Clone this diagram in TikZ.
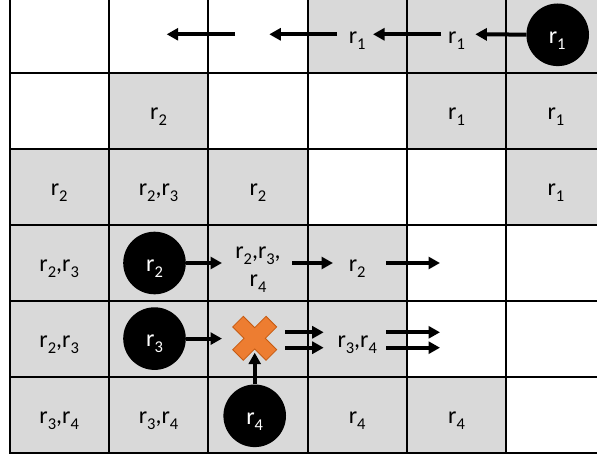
\documentclass[tikz,border=0pt]{standalone}
\usepackage{fontspec}
\setmainfont{Carlito}
\usetikzlibrary{arrows.meta}
\definecolor{cellgray}{HTML}{D9D9D9}
\definecolor{xorange}{HTML}{ED7D31}
\definecolor{xedge}{HTML}{C55A11}
\newcommand\rlab[1]{r\raisebox{-6pt}{\fontsize{16.5}{17}\selectfont #1}}
\begin{document}
\begin{tikzpicture}[x=1pt,y=-1pt,
  cell/.style={draw=black, line width=2pt, minimum width=99.35pt, minimum height=75.95pt, inner sep=0pt, outer sep=0pt},
  txt/.style={anchor=base, inner sep=0pt, font=\fontsize{24}{28}\selectfont},
  robot/.style={circle, fill=black, minimum size=62.6pt, inner sep=0pt},
  rtxt/.style={txt, text=white},
  mv/.style={line width=4pt, -{Triangle[length=11.5pt,width=12pt]}},
]
\useasboundingbox (0,0) rectangle (597,457);
% cells
\foreach \r/\c/\f in {
  0/0/white,0/1/white,0/2/white,0/3/cellgray,0/4/cellgray,0/5/cellgray,
  1/0/white,1/1/cellgray,1/2/white,1/3/white,1/4/cellgray,1/5/cellgray,
  2/0/cellgray,2/1/cellgray,2/2/cellgray,2/3/white,2/4/white,2/5/cellgray,
  3/0/cellgray,3/1/cellgray,3/2/cellgray,3/3/cellgray,3/4/white,3/5/white,
  4/0/cellgray,4/1/cellgray,4/2/cellgray,4/3/cellgray,4/4/white,4/5/white,
  5/0/cellgray,5/1/cellgray,5/2/cellgray,5/3/cellgray,5/4/cellgray,5/5/white}
  \node[cell, fill=\f] (cell-\r-\c) at ({59.175+99.35*\c},{35.375+75.95*\r}) {};
% labels
\foreach \r/\c/\t in {
  0/3/{\rlab{1}}, 0/4/{\rlab{1}},
  1/1/{\rlab{2}}, 1/4/{\rlab{1}}, 1/5/{\rlab{1}},
  2/0/{\rlab{2}}, 2/1/{\rlab{2},\rlab{3}}, 2/2/{\rlab{2}}, 2/5/{\rlab{1}},
  3/0/{\rlab{2},\rlab{3}}, 3/3/{\rlab{2}},
  4/0/{\rlab{2},\rlab{3}}, 4/3/{\rlab{3},\rlab{4}},
  5/0/{\rlab{3},\rlab{4}}, 5/1/{\rlab{3},\rlab{4}}, 5/3/{\rlab{4}}, 5/4/{\rlab{4}}}
  \node[txt] (lab-\r-\c) at ({59.175+99.35*\c},{35.375+75.95*\r+8.3}) {\t};
\node[txt] (lab-3-2a) at (258,258.5) {\rlab{2},\rlab{3},};
\node[txt] (lab-3-2b) at (258,286.5) {\rlab{4}};
% robots
\node[robot] (c1) at (557.7,34.8) {};
\node[robot] (c2) at (154.5,263) {};
\node[robot] (c3) at (154.5,338.6) {};
\node[robot] (c4) at (254.7,415.8) {};
\node[rtxt] (c1t) at (557.2,43.1) {\rlab{1}};
\node[rtxt] (c2t) at (154.5,271.3) {\rlab{2}};
\node[rtxt] (c3t) at (154.5,346.9) {\rlab{3}};
\node[rtxt] (c4t) at (254.7,424.1) {\rlab{4}};
% collision cross
\begin{scope}[shift={(254.7,338.3)}, rotate=45]
  \filldraw[fill=xorange, draw=xedge, line width=0.8pt]
    (-7.5,-23.6) -- (7.5,-23.6) -- (7.5,-7.5) -- (23.6,-7.5) -- (23.6,7.5) -- (7.5,7.5)
    -- (7.5,23.6) -- (-7.5,23.6) -- (-7.5,7.5) -- (-23.6,7.5) -- (-23.6,-7.5) -- (-7.5,-7.5) -- cycle;
\end{scope}
\coordinate (cross) at (254.7,338.3);
% arrow end points
\coordinate (t01) at (475.3,34.3);
\coordinate (s02) at (441,34.3);  \coordinate (t02) at (373,34.3);
\coordinate (s03) at (337,34.3);  \coordinate (t03) at (269.3,34.3);
\coordinate (s04) at (235,34.3);  \coordinate (t04) at (166.7,34.3);
\coordinate (t31) at (222,263);
\coordinate (s32) at (292,263);   \coordinate (t32) at (333,263);
\coordinate (s33) at (386,263);   \coordinate (t33) at (440,263);
\coordinate (t41) at (222,338.6);
\coordinate (s42) at (285,332.3); \coordinate (t42) at (323.7,332.3);
\coordinate (s43) at (285,347.7); \coordinate (t43) at (323.7,347.7);
\coordinate (s44) at (386,332.3); \coordinate (t44) at (440,332.3);
\coordinate (s45) at (386,347.7); \coordinate (t45) at (440,347.7);
\coordinate (tx) at (254.7,352.7);
% arrows
\draw[mv] (c1) -- (t01);
\draw[mv] (s02) -- (t02);
\draw[mv] (s03) -- (t03);
\draw[mv] (s04) -- (t04);
\draw[mv] (c2) -- (t31);
\draw[mv] (s32) -- (t32);
\draw[mv] (s33) -- (t33);
\draw[mv] (c3) -- (t41);
\draw[mv] (s42) -- (t42);
\draw[mv] (s43) -- (t43);
\draw[mv] (s44) -- (t44);
\draw[mv] (s45) -- (t45);
\draw[mv] (c4) -- (tx);
\end{tikzpicture}
\end{document}
